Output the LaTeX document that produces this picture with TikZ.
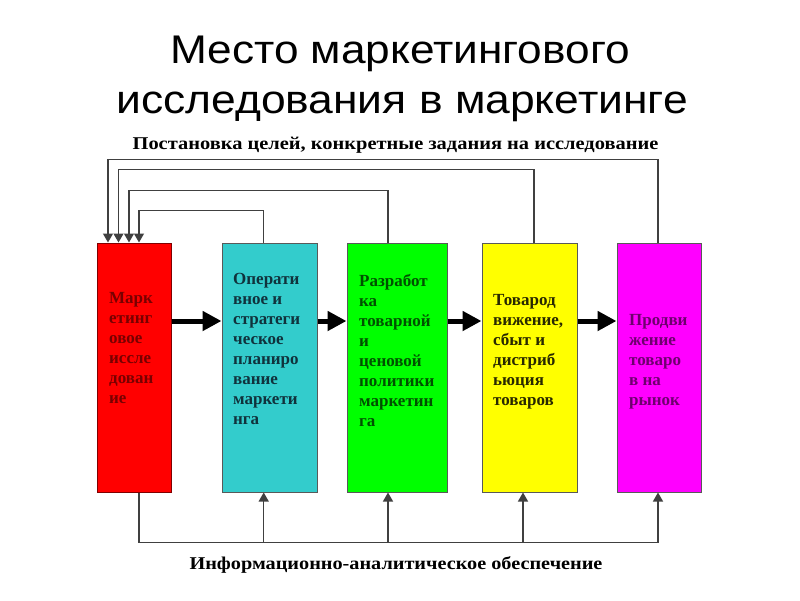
\documentclass[tikz,border=0pt]{standalone}
\usepackage{fontspec}
\usepackage{graphicx}
\setmainfont{Liberation Serif}
\newfontfamily\titlefont{Liberation Sans}
\usetikzlibrary{arrows.meta}
\definecolor{cRed}{RGB}{255,0,0}
\definecolor{cCyan}{RGB}{51,204,204}
\definecolor{cGreen}{RGB}{0,255,0}
\definecolor{cYellow}{RGB}{255,255,0}
\definecolor{cMag}{RGB}{255,0,255}
\definecolor{tRed}{RGB}{120,0,0}
\definecolor{tCyan}{RGB}{16,50,60}
\definecolor{tGreen}{RGB}{0,80,0}
\definecolor{tYellow}{RGB}{40,40,0}
\definecolor{tMag}{RGB}{110,0,110}
\begin{document}
\begin{tikzpicture}[x=1pt,y=-1pt,
  box/.style={draw=black!65, line width=1pt, minimum width=#1, minimum height=249pt, inner sep=0pt},
  btext/.style={anchor=north west, inner sep=0pt, align=left, font=\fontsize{17}{20}\selectfont\bfseries},
  bigarrow/.style={line width=5pt, -{Triangle[length=19pt,width=19pt]}},
  fb/.style={draw=black!75, line width=1.3pt},
  fba/.style={fb, -{Triangle[length=9pt,width=10pt]}},
  lbl/.style={inner sep=0pt, anchor=base, font=\fontsize{18}{20}\selectfont\bfseries},
  ttl/.style={inner sep=0pt, anchor=base, font=\titlefont\fontsize{40}{48}\selectfont}
]
\useasboundingbox (0,0) rectangle (800,600);
\fill[white] (0,0) rectangle (800,600);

% title
\node[ttl] (t1) at (400,63) {\scalebox{1.105}[1]{Место маркетингового}};
\node[ttl] (t2) at (402,113) {\scalebox{1.11}[1]{исследования в маркетинге}};
\node[lbl] (top) at (395.5,149) {\scalebox{1.135}[1]{Постановка целей, конкретные задания на исследование}};
\node[lbl] (bot) at (396,569) {\scalebox{1.125}[1]{Информационно-аналитическое обеспечение}};

% boxes
\node[box=74pt, fill=cRed, draw=red!50!black] (r) at (134,367.5) {};
\node[box=95pt, fill=cCyan] (c) at (269.5,367.5) {};
\node[box=100pt, fill=cGreen] (g) at (397,367.5) {};
\node[box=95pt, fill=cYellow] (y) at (529.5,367.5) {};
\node[box=84pt, fill=cMag] (m) at (659,367.5) {};

% box texts
\node[btext, text=tRed] (rt) at (109,292.5) {Марк\\етинг\\овое\\иссле\\дован\\ие};
\node[btext, text=tCyan] (ct) at (233,273.5) {Операти\\вное и\\стратеги\\ческое\\планиро\\вание\\маркети\\нга};
\node[btext, text=tGreen] (gt) at (359,274) {Разработ\\ка\\товарной\\и\\ценовой\\политики\\маркетин\\га};
\node[btext, text=tYellow] (yt) at (493,294) {Товарод\\вижение,\\сбыт и\\дистриб\\ьюция\\товаров};
\node[btext, text=tMag] (mt) at (629,314) {Продви\\жение\\товаро\\в на\\рынок};

% main arrows
\coordinate (ay) at (0,321);
\draw[bigarrow] (r.east |- ay) -- (c.west |- ay);
\draw[bigarrow] (c.east |- ay) -- (g.west |- ay);
\draw[bigarrow] (g.east |- ay) -- (y.west |- ay);
\draw[bigarrow] (y.east |- ay) -- (m.west |- ay);

% feedback lines (top)
\draw[fba] ([xshift=-1pt]m.north) -- ++(0,-83) -| ([xshift=-26pt]r.north);
\draw[fba] ([xshift=4.5pt]y.north) -- ++(0,-73) -| ([xshift=-15.5pt]r.north);
\draw[fba] ([xshift=-9pt]g.north) -- ++(0,-52) -| ([xshift=-5pt]r.north);
\draw[fba] ([xshift=-5.8pt]c.north) -- ++(0,-32) -| ([xshift=5pt]r.north);

% information lines (bottom)
\coordinate (bl) at (0,542.7);
\draw[fba] ([xshift=5pt]r.south) -- ([xshift=5pt]r.south |- bl) -| ([xshift=-1pt]m.south);
\draw[fba] ([xshift=-5.8pt]c.south |- bl) -- ([xshift=-5.8pt]c.south);
\draw[fba] ([xshift=-9pt]g.south |- bl) -- ([xshift=-9pt]g.south);
\draw[fba] ([xshift=-6.5pt]y.south |- bl) -- ([xshift=-6.5pt]y.south);
\end{tikzpicture}
\end{document}
